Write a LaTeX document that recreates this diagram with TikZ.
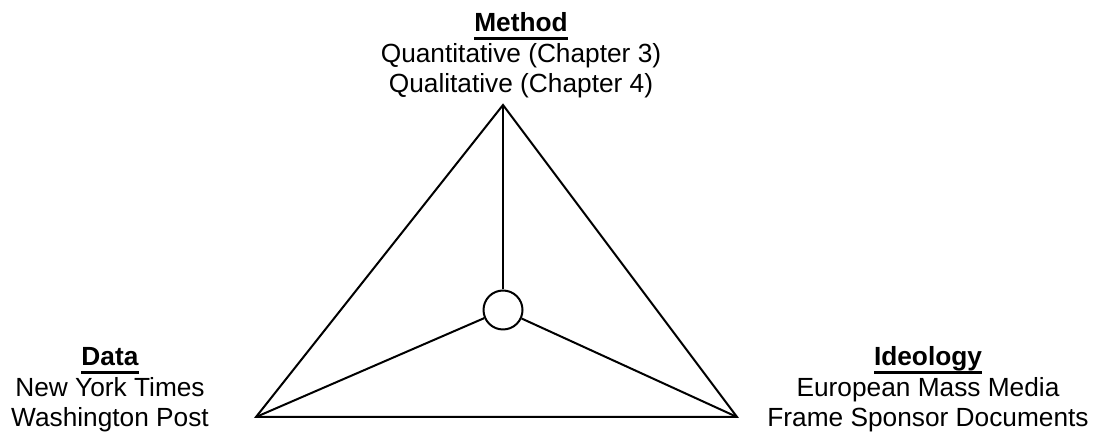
\documentclass[tikz,border=0pt]{standalone}
\usepackage{fontspec}
\setmainfont{Liberation Sans}
\newcommand{\head}[1]{\setbox0\hbox{\textbf{#1}}\rlap{\rule[-6pt]{\wd0}{1.8pt}}\box0}
\begin{document}
\begin{tikzpicture}[x=0.75pt,y=0.75pt,
  corner/.style={align=center,font=\fontsize{19.7}{23}\selectfont,anchor=base,inner sep=0pt},
  edge/.style={line width=1.5pt}]
\useasboundingbox (0,0) rectangle (1098,434);
\coordinate (top) at (503,329);
\coordinate (left) at (256,17);
\coordinate (right) at (737,17);
\node[circle,draw,line width=1.5pt,minimum size=29.25pt,inner sep=0pt] (hub) at (503,124) {};

\draw[edge] (top) -- (left) -- (right) -- cycle;
\draw[edge] (hub) -- (top);
\draw[edge] (hub) -- (left);
\draw[edge] (hub) -- (right);

\node[corner] (method) at (521,341) {\head{Method}\\Quantitative (Chapter 3)\\Qualitative (Chapter 4)};
\node[corner] (data) at (110,7) {\head{Data}\\New York Times\\Washington Post};
\node[corner] (ideology) at (928,7) {\head{Ideology}\\European Mass Media\\Frame Sponsor Documents};
\end{tikzpicture}
\end{document}
